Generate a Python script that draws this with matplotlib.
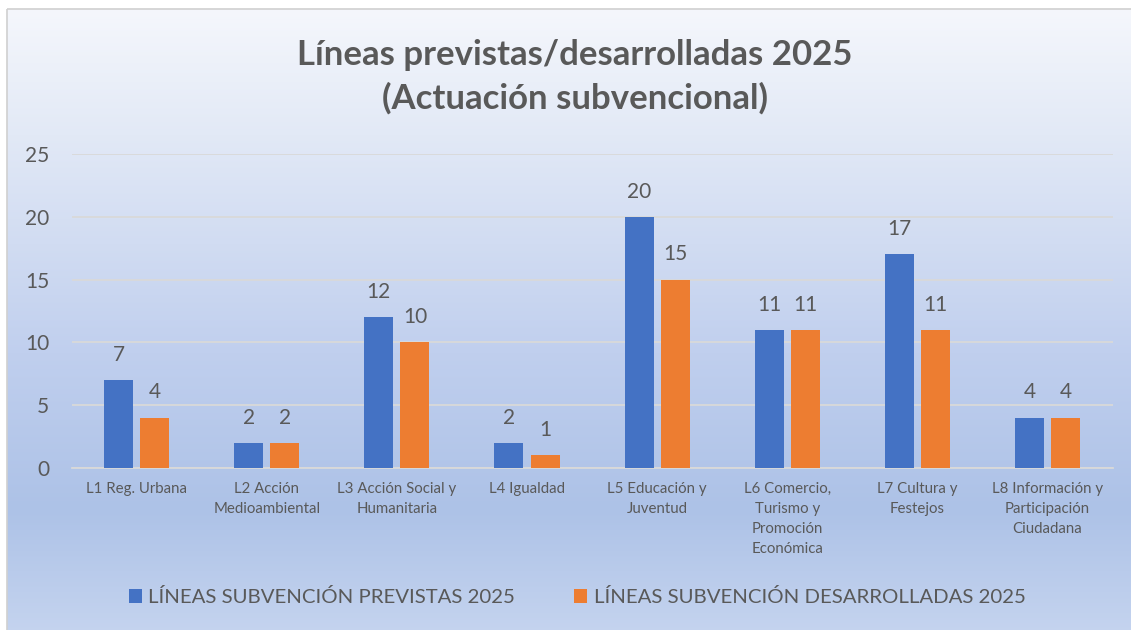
import numpy as np
import matplotlib
matplotlib.use("Agg")
import matplotlib.pyplot as plt
from matplotlib.colors import LinearSegmentedColormap
from matplotlib.patches import Rectangle

categories = ["L1 Reg. Urbana", "L2 Acción\nMedioambiental", "L3 Acción Social y\nHumanitaria",
              "L4 Igualdad", "L5 Educación y\nJuventud", "L6 Comercio,\nTurismo y\nPromoción\nEconómica",
              "L7 Cultura y\nFestejos", "L8 Información y\nParticipación\nCiudadana"]
previstas = [7, 2, 12, 2, 20, 11, 17, 4]
desarrolladas = [4, 2, 10, 1, 15, 11, 11, 4]
series_names = ["LÍNEAS SUBVENCIÓN PREVISTAS 2025", "LÍNEAS SUBVENCIÓN DESARROLLADAS 2025"]
title = "Líneas previstas/desarrolladas 2025\n(Actuación subvencional)"
yticks = [0, 5, 10, 15, 20, 25]

plt.rcParams['font.family'] = ['Lato', 'DejaVu Sans']
TXT = "#595959"
BLUE = "#4472c4"
ORANGE = "#ed7d31"

W, H = 1131, 630
fig = plt.figure(figsize=(W / 100, H / 100), dpi=100)
fig.patch.set_facecolor("white")

# background gradient
bg = fig.add_axes([0, 0, 1, 1], zorder=0)
bg.set_axis_off()
cmap = LinearSegmentedColormap.from_list("g", [
    (0.0, "#f5f7fc"), (0.2, "#e2e9f6"), (0.55, "#c0cfee"), (0.8, "#adc2e7"), (1.0, "#c5d4ef")])
grad = np.linspace(0, 1, 256).reshape(-1, 1)
bg.imshow(grad, aspect="auto", cmap=cmap, extent=[7, W + 5, H + 5, 9])
bg.set_xlim(0, W)
bg.set_ylim(H, 0)
bg.add_patch(Rectangle((7, 9), W, H, fill=False, edgecolor="#d0d0d0", lw=1.2))

ax = fig.add_axes([71.5 / W, (H - 468) / H, (1112.6 - 71.5) / W, (468 - 154) / H], zorder=1)
ax.patch.set_alpha(0)
x = np.arange(len(categories))
bw = 0.223
gap = 0.055
b1 = ax.bar(x - (bw + gap) / 2, previstas, bw, color=BLUE, label=series_names[0], zorder=3)
b2 = ax.bar(x + (bw + gap) / 2, desarrolladas, bw, color=ORANGE, label=series_names[1], zorder=3)
for bars in (b1, b2):
    for r in bars:
        ax.annotate(f"{int(r.get_height())}", (r.get_x() + r.get_width() / 2, r.get_height()),
                    xytext=(0, 11), textcoords="offset points", ha="center", va="bottom",
                    fontsize=15, color=TXT)

ax.set_xlim(-0.5, len(categories) - 0.5)
ax.set_ylim(0, 25)
ax.set_yticks(yticks)
ax.set_yticklabels([str(v) for v in yticks], fontsize=15, color=TXT)
ax.set_xticks(x)
ax.set_xticklabels(categories, fontsize=10.8, color=TXT, linespacing=1.55, va="top")
ax.tick_params(axis="both", length=0)
ax.tick_params(axis="y", pad=16)
ax.tick_params(axis="x", pad=10)
ax.grid(axis="y", color="#d9d9d9", lw=1.3, zorder=0)
for s in ["top", "right", "left"]:
    ax.spines[s].set_visible(False)
ax.spines["bottom"].set_color("#d9d9d9")
ax.spines["bottom"].set_linewidth(1.3)

fig.text(575 / W, 1 - 77 / H, title, ha="center", va="center", fontsize=25,
         fontweight="bold", color=TXT, linespacing=1.4)

fig.legend(handles=[b1, b2], labels=series_names, loc="center", ncol=2,
           bbox_to_anchor=(577 / W, 1 - 597 / H), frameon=False, fontsize=14.7,
           labelcolor=TXT, handlelength=0.65, handleheight=0.65, handletextpad=0.3,
           columnspacing=2.9)

fig.savefig("out.png", dpi=100)
